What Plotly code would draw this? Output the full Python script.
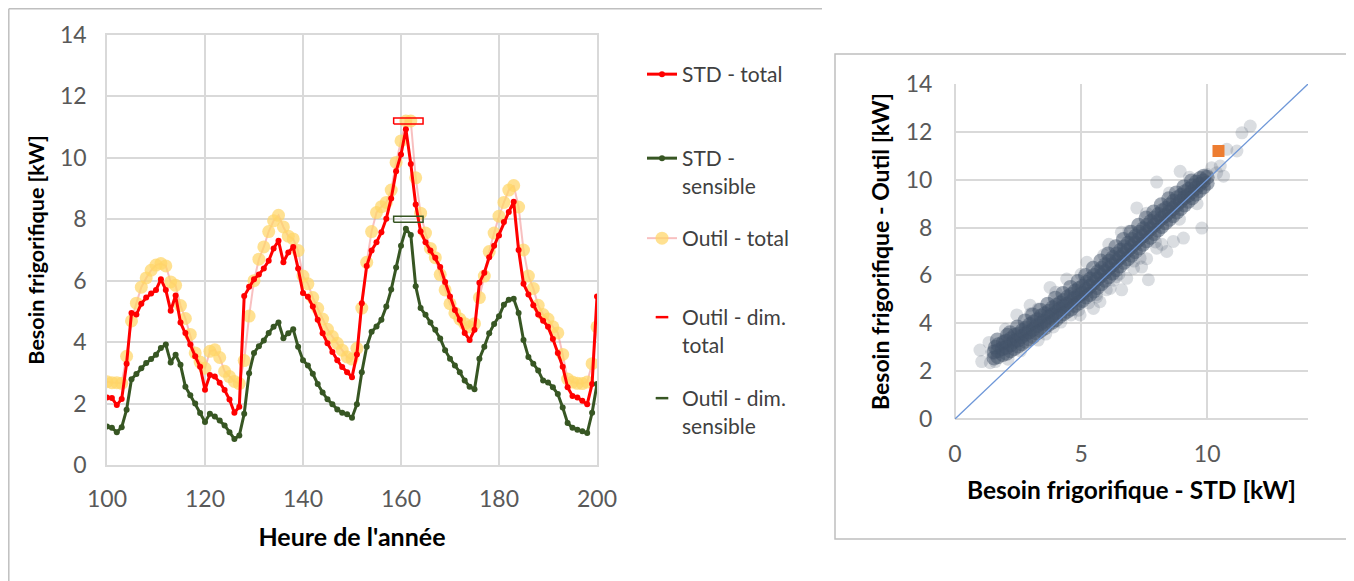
import plotly.graph_objects as go

# ---------------- data: left chart (hours 100..200) ----------------
hours = list(range(100, 201))

std_total = [
    2.2, 2.18, 1.95, 2.15, 3.3, 4.95, 4.9, 5.25, 5.45, 5.58,
    5.7, 6.05, 5.7, 5.02, 5.52, 4.64, 4.3, 3.92, 3.54, 3.2,
    2.45, 2.93, 2.88, 2.68, 2.44, 2.13, 1.7, 1.9, 5.5, 5.8,
    6.05, 6.2, 6.4, 6.65, 7.05, 7.3, 6.6, 6.92, 7.1, 6.4,
    5.6, 5.48, 5.16, 4.73, 4.29, 3.96, 3.68, 3.41, 3.19, 3.02,
    2.86, 3.6, 5.27, 6.48, 6.98, 7.25, 7.58, 8.02, 8.68, 9.56,
    10.11, 10.93, 9.8, 8.48, 7.6, 7.25, 6.98, 6.75, 6.45, 5.96,
    5.49, 5.05, 4.73, 4.3, 4.07, 4.4, 5.93, 6.26, 6.76, 7.14,
    7.47, 7.91, 8.24, 8.57, 7.0, 5.9, 5.55, 5.2, 4.9, 4.7,
    4.5, 4.1, 3.65, 3.2, 2.53, 2.25, 2.2, 2.09, 1.98, 2.64,
    5.49,
]

std_sensible = [
    1.25, 1.21, 1.07, 1.23, 1.8, 2.79, 2.96, 3.15, 3.32, 3.45,
    3.59, 3.81, 3.92, 3.34, 3.59, 3.26, 2.55, 2.27, 2.0, 1.69,
    1.4, 1.67, 1.58, 1.45, 1.29, 1.07, 0.85, 0.96, 1.67, 2.99,
    3.65, 3.87, 4.05, 4.3, 4.5, 4.64, 4.13, 4.29, 4.42, 3.85,
    3.41, 3.24, 2.97, 2.64, 2.36, 2.14, 1.98, 1.81, 1.7, 1.65,
    1.54, 1.98, 3.02, 3.85, 4.34, 4.51, 4.73, 5.16, 5.71, 6.43,
    7.14, 7.69, 7.49, 5.82, 5.11, 4.89, 4.64, 4.4, 4.12, 3.74,
    3.46, 3.24, 3.02, 2.75, 2.55, 2.47, 3.46, 3.85, 4.29, 4.59,
    4.84, 5.22, 5.38, 5.41, 4.95, 4.07, 3.52, 3.3, 3.08, 2.75,
    2.69, 2.53, 2.31, 1.87, 1.37, 1.21, 1.15, 1.1, 1.04, 1.7,
    2.64,
]

outil_total = [
    2.71, 2.68, 2.68, 2.66, 3.54, 4.69, 5.27, 5.79, 6.09, 6.34,
    6.51, 6.56, 6.48, 5.96, 5.85, 5.19, 4.77, 4.25, 3.65, 3.35,
    3.15, 3.7, 3.75, 3.5, 3.05, 2.88, 2.72, 2.65, 3.4, 4.85,
    6.0, 6.7, 7.1, 7.6, 7.95, 8.13, 7.75, 7.45, 7.36, 6.98,
    6.15, 5.9, 5.45, 5.1, 4.75, 4.42, 4.18, 3.96, 3.74, 3.52,
    3.45, 3.8, 5.11, 6.6, 7.6, 8.22, 8.41, 8.55, 8.95, 9.85,
    10.55, 11.2, 11.2, 9.35, 8.2, 7.55, 7.05, 6.75, 6.2, 5.7,
    5.25, 4.95, 4.75, 4.6, 4.5, 4.6, 5.45, 6.15, 6.95, 7.55,
    8.1, 8.55, 8.95, 9.1, 8.4, 7.0, 6.15, 5.75, 5.2, 4.9,
    4.75, 4.5, 4.3, 3.6, 2.8, 2.7, 2.66, 2.65, 2.7, 3.3,
    4.5,
]

# sizing values ("dim.") of the tool, shown as hollow bars
dim_total = 11.2
dim_sensible = 8.0
dim_hours = [158.5, 164.5]

# ---------------- data: right chart (hourly scatter STD vs Outil) ----------------
cloud_core = [
    (1.55, 2.55), (1.55, 2.8), (1.6, 3.0),
    (1.7, 2.6), (1.7, 2.85), (1.72, 3.1), (1.68, 3.3),
    (1.9, 2.7), (1.88, 2.95), (1.92, 3.2),
    (2.05, 2.75), (2.05, 3.0), (2.02, 3.25), (2.08, 3.5),
    (2.2, 2.85), (2.2, 3.1), (2.22, 3.35), (2.18, 3.6),
    (2.35, 2.95), (2.35, 3.25), (2.37, 3.5),
    (2.5, 3.05), (2.5, 3.3), (2.52, 3.55), (2.48, 3.85),
    (2.65, 3.15), (2.65, 3.45), (2.67, 3.7),
    (2.8, 3.25), (2.8, 3.55), (2.82, 3.8), (2.78, 4.1),
    (2.95, 3.35), (2.95, 3.65), (2.97, 3.95),
    (3.1, 3.45), (3.1, 3.75), (3.12, 4.05), (3.08, 4.35),
    (3.25, 3.6), (3.25, 3.9), (3.27, 4.15),
    (3.4, 3.7), (3.4, 4.0), (3.42, 4.3), (3.38, 4.55),
    (3.55, 3.8), (3.55, 4.1), (3.57, 4.4),
    (3.7, 3.95), (3.7, 4.25), (3.72, 4.5), (3.68, 4.8),
    (3.85, 4.05), (3.85, 4.35), (3.87, 4.65),
    (4.0, 4.15), (4.0, 4.45), (4.02, 4.75), (3.98, 5.05),
    (4.15, 4.3), (4.15, 4.6), (4.17, 4.85),
    (4.3, 4.4), (4.3, 4.7), (4.32, 4.95), (4.28, 5.25),
    (4.45, 4.5), (4.45, 4.8), (4.47, 5.1),
    (4.6, 4.6), (4.6, 4.9), (4.62, 5.2), (4.58, 5.5),
    (4.75, 4.75), (4.75, 5.05), (4.77, 5.35),
    (4.9, 4.85), (4.9, 5.15), (4.92, 5.45), (4.88, 5.75),
    (5.05, 4.95), (5.05, 5.25), (5.07, 5.55),
    (5.2, 5.1), (5.2, 5.4), (5.22, 5.7), (5.18, 6.0),
    (5.35, 5.2), (5.35, 5.55), (5.37, 5.85),
    (5.5, 5.35), (5.5, 5.7), (5.52, 6.0), (5.48, 6.3),
    (5.65, 5.5), (5.65, 5.85), (5.67, 6.15),
    (5.8, 5.65), (5.8, 6.0), (5.82, 6.3), (5.78, 6.6),
    (5.95, 5.8), (5.95, 6.15), (5.97, 6.45),
    (6.1, 5.95), (6.1, 6.3), (6.12, 6.6), (6.08, 6.9),
    (6.25, 6.1), (6.25, 6.45), (6.27, 6.75),
    (6.4, 6.25), (6.4, 6.6), (6.42, 6.9), (6.38, 7.2),
    (6.55, 6.4), (6.55, 6.75), (6.57, 7.05),
    (6.7, 6.55), (6.7, 6.9), (6.72, 7.2), (6.68, 7.5),
    (6.85, 6.7), (6.85, 7.05), (6.87, 7.35),
    (7.0, 6.85), (7.0, 7.2), (7.02, 7.5), (6.98, 7.8),
    (7.15, 7.0), (7.15, 7.35), (7.17, 7.65),
    (7.3, 7.15), (7.3, 7.5), (7.32, 7.8), (7.28, 8.1),
    (7.45, 7.3), (7.45, 7.65), (7.47, 7.95),
    (7.6, 7.45), (7.6, 7.8), (7.62, 8.1), (7.58, 8.4),
    (7.75, 7.6), (7.75, 7.95), (7.77, 8.25),
    (7.9, 7.75), (7.9, 8.1), (7.92, 8.4), (7.88, 8.65),
    (8.05, 7.9), (8.05, 8.25), (8.07, 8.55),
    (8.2, 8.05), (8.2, 8.4), (8.22, 8.7), (8.18, 8.95),
    (8.35, 8.2), (8.35, 8.5), (8.37, 8.8),
    (8.5, 8.35), (8.5, 8.65), (8.52, 8.95), (8.48, 9.2),
    (8.65, 8.5), (8.65, 8.8), (8.67, 9.1),
    (8.8, 8.65), (8.8, 8.95), (8.82, 9.25), (8.78, 9.45),
    (8.95, 8.8), (8.95, 9.1), (8.97, 9.35),
    (9.1, 8.95), (9.1, 9.25), (9.12, 9.5), (9.08, 9.7),
    (9.25, 9.1), (9.25, 9.35), (9.27, 9.6),
    (9.4, 9.25), (9.4, 9.5), (9.42, 9.75), (9.38, 9.95),
    (9.55, 9.4), (9.55, 9.65), (9.57, 9.9),
    (9.7, 9.55), (9.7, 9.8), (9.72, 10.05),
    (9.85, 9.7), (9.85, 9.95), (9.87, 10.15),
    (10.0, 9.85), (10.0, 10.1),
]
cloud_sparse = [
    (0.99, 2.88), (1.06, 2.4), (1.4, 2.35), (1.6, 2.4), (1.35, 3.2), (1.45, 2.75),
    (2.1, 2.5), (2.6, 2.85), (3.3, 3.3), (4.2, 4.05), (4.9, 4.55),
    (2.45, 4.35), (2.98, 4.75), (3.3, 4.6), (3.77, 5.5), (4.43, 5.85),
    (4.96, 4.35), (5.23, 6.55), (5.49, 4.62), (5.62, 5.1), (5.75, 4.9),
    (6.0, 5.4), (6.15, 5.46), (6.3, 5.8), (6.61, 5.4), (6.81, 5.88),
    (7.08, 6.3), (7.34, 6.72), (7.6, 6.7), (7.67, 5.82), (7.4, 6.35),
    (8.0, 7.14), (8.2, 7.3), (8.4, 7.0), (8.66, 7.42), (9.06, 7.56),
    (9.79, 7.98), (6.1, 7.3), (6.6, 7.8), (7.21, 8.82), (8.0, 9.9),
    (8.93, 10.35), (9.99, 10.22), (10.18, 10.5), (10.38, 10.29),
    (10.52, 10.57), (10.65, 10.15), (10.78, 11.27), (11.18, 11.2),
    (11.38, 11.96), (11.71, 12.24),
    (2.0, 3.75), (3.0, 4.4), (3.6, 3.55), (4.0, 5.3), (4.6, 4.35),
    (5.0, 6.05), (5.3, 4.85), (5.9, 6.85), (6.5, 6.05), (6.9, 7.85),
    (7.1, 6.6), (7.6, 8.6), (7.95, 7.4), (8.5, 9.45), (8.9, 8.35),
    (9.3, 10.1), (9.6, 9.0), (3.9, 3.85), (5.6, 5.2), (6.4, 5.95),
]
core_std = [p[0] for p in cloud_core]
core_outil = [p[1] for p in cloud_core]
sparse_std = [p[0] for p in cloud_sparse]
sparse_outil = [p[1] for p in cloud_sparse]

std_at_dim = 10.45          # STD value paired with the tool's sizing value
identity_line = [0, 14]     # y = x reference

# ---------------- layout helpers ----------------
W, H = 1354, 581
OFF = 8  # the page body adds an 8 px margin around the figure


def px(v):
    return (v - OFF) / W


def py(v):
    return 1 - (v - OFF) / H


GRID = "#D9D9D9"
TICKFONT = dict(family="Lato", size=23, color="#595959")
XTITLE_L = dict(family="Lato", size=25, color="#000000", weight="bold")
YTITLE_L = dict(family="Lato", size=21.5, color="#000000", weight="bold")
XTITLE_R = dict(family="Lato", size=24.5, color="#000000", weight="bold")
YTITLE_R = dict(family="Lato", size=23, color="#000000", weight="bold")
LEGFONT = dict(family="Lato", size=21, color="#404040")

fig = go.Figure()

# Outil - total (drawn first, under the STD lines)
fig.add_trace(go.Scatter(
    x=hours, y=outil_total, mode="lines+markers", name="Outil - total",
    line=dict(color="rgba(242,140,140,0.55)", width=2),
    marker=dict(color="rgba(255,214,102,0.72)", size=13),
    legend="legend3", xaxis="x", yaxis="y"))

fig.add_trace(go.Scatter(
    x=hours, y=std_total, mode="lines+markers", name="STD - total",
    line=dict(color="#FF0000", width=3),
    marker=dict(color="#FF0000", size=6),
    legend="legend", xaxis="x", yaxis="y"))

fig.add_trace(go.Scatter(
    x=hours, y=std_sensible, mode="lines+markers", name="STD -<br>sensible",
    line=dict(color="#375623", width=3),
    marker=dict(color="#375623", size=6),
    legend="legend2", xaxis="x", yaxis="y"))


# hollow bars for the sizing values
def bar_outline(value):
    h = 0.1
    xs = [dim_hours[0], dim_hours[1], dim_hours[1], dim_hours[0], dim_hours[0]]
    ys = [value - h, value - h, value + h, value + h, value - h]
    return xs, ys


for val, col, leg, nm in [(dim_total, "#FF0000", "legend4", "Outil - dim.<br>total"),
                          (dim_sensible, "#375623", "legend5", "Outil - dim.<br>sensible")]:
    bx, by = bar_outline(val)
    fig.add_trace(go.Scatter(x=bx, y=by, mode="lines", line=dict(color=col, width=1.5),
                             showlegend=False, xaxis="x", yaxis="y", hoverinfo="skip"))
    fig.add_trace(go.Scatter(x=[None], y=[None], mode="markers", name=nm,
                             marker=dict(symbol="line-ew", size=9, line=dict(color=col, width=2.5)),
                             legend=leg, xaxis="x", yaxis="y"))

# right chart
fig.add_trace(go.Scatter(
    x=sparse_std, y=sparse_outil, mode="markers", showlegend=False,
    marker=dict(color="rgba(68,84,106,0.2)", size=13, line=dict(width=0)),
    xaxis="x2", yaxis="y2"))
fig.add_trace(go.Scatter(
    x=core_std, y=core_outil, mode="markers", showlegend=False,
    marker=dict(color="rgba(68,84,106,0.5)", size=15, line=dict(width=0)),
    xaxis="x2", yaxis="y2"))
fig.add_trace(go.Scatter(
    x=identity_line, y=identity_line, mode="lines", showlegend=False,
    line=dict(color="#6E97D8", width=1.3), xaxis="x2", yaxis="y2"))
fig.add_trace(go.Scatter(
    x=[std_at_dim], y=[dim_total], mode="markers", showlegend=False,
    marker=dict(color="#ED7D31", symbol="square", size=12),
    xaxis="x2", yaxis="y2"))

# ---------------- axes ----------------
fig.update_layout(
    width=W, height=H, margin=dict(l=0, r=0, t=0, b=0),
    paper_bgcolor="white", plot_bgcolor="white",
    xaxis=dict(domain=[px(107), px(597)], range=[100, 200], dtick=20, tick0=100,
               showgrid=True, gridcolor=GRID, gridwidth=1.5, zeroline=False,
               showline=True, linecolor=GRID, linewidth=1.5, mirror=True,
               ticks="outside", ticklen=13, tickcolor="rgba(0,0,0,0)",
               tickfont=TICKFONT, automargin=False,
               title=dict(text="Heure de l'année", font=XTITLE_L, standoff=17)),
    yaxis=dict(domain=[py(465), py(35)], range=[0, 14], dtick=2,
               showgrid=True, gridcolor=GRID, gridwidth=1.5, zeroline=False,
               showline=True, linecolor=GRID, linewidth=1.5, mirror=True,
               ticks="outside", ticklen=14, tickcolor="rgba(0,0,0,0)",
               tickfont=TICKFONT, automargin=False,
               title=dict(text="Besoin frigorifique [kW]", font=YTITLE_L, standoff=9)),
    xaxis2=dict(domain=[px(955), px(1308)], range=[0, 14], dtick=5, tick0=0, anchor="y2",
                showgrid=True, gridcolor=GRID, gridwidth=1.5,
                zeroline=True, zerolinecolor=GRID, zerolinewidth=1.5, showline=False,
                ticks="outside", ticklen=14, tickcolor="rgba(0,0,0,0)",
                tickfont=TICKFONT, automargin=False,
                title=dict(text="Besoin frigorifique - STD [kW]", font=XTITLE_R, standoff=16)),
    yaxis2=dict(domain=[py(419), py(84)], range=[0, 14], dtick=2, anchor="x2",
                showgrid=True, gridcolor=GRID, gridwidth=1.5,
                zeroline=True, zerolinecolor=GRID, zerolinewidth=1.5, showline=False,
                ticks="outside", ticklen=17, tickcolor="rgba(0,0,0,0)",
                tickfont=TICKFONT, automargin=False,
                title=dict(text="Besoin frigorifique - Outil [kW]", font=YTITLE_R, standoff=9)),
)

# ---------------- legends ----------------
leg_base = dict(x=px(642), xanchor="left", yanchor="top", bgcolor="rgba(0,0,0,0)",
                font=LEGFONT, valign="top", borderwidth=0)
fig.update_layout(
    legend=dict(leg_base, y=py(54)),
    legend2=dict(leg_base, y=py(138)),
    legend3=dict(leg_base, y=py(218)),
    legend4=dict(leg_base, y=py(297)),
    legend5=dict(leg_base, y=py(378)),
)

# ---------------- frames ----------------
FRAME = "#BFBFBF"
fig.add_shape(type="line", xref="paper", yref="paper", x0=px(8.8), x1=px(822), y0=py(8.8), y1=py(8.8),
              line=dict(color=FRAME, width=1.5))
fig.add_shape(type="line", xref="paper", yref="paper", x0=px(8.8), x1=px(8.8), y0=py(8.8), y1=py(589),
              line=dict(color=FRAME, width=1.5))
fig.add_shape(type="rect", xref="paper", yref="paper", x0=px(835), x1=px(1351), y0=py(539), y1=py(54),
              line=dict(color=FRAME, width=1.5), fillcolor="rgba(0,0,0,0)")

fig.write_html("out.html")
